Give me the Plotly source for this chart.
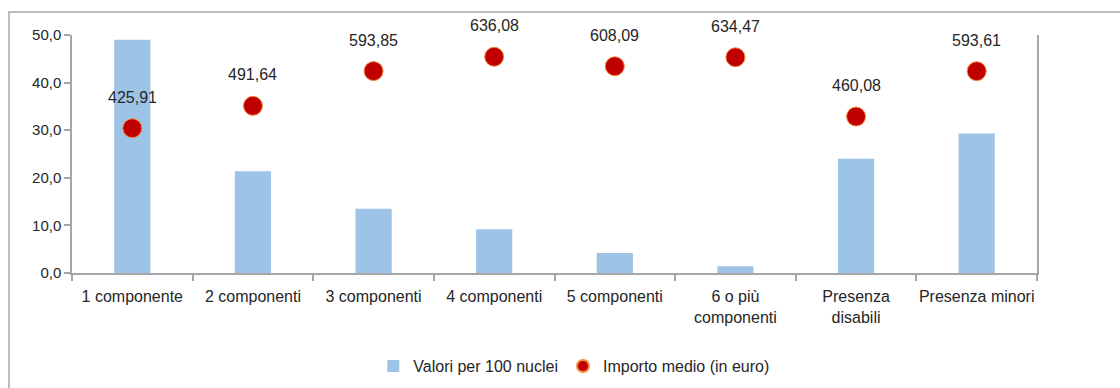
import plotly.graph_objects as go

# Household categories (x axis)
categorie = [
    "1 componente",
    "2 componenti",
    "3 componenti",
    "4 componenti",
    "5 componenti",
    "6 o più<br>componenti",
    "Presenza<br>disabili",
    "Presenza minori",
]

# Values per 100 households (left axis, bars)
valori_100_nuclei = [49.0, 21.4, 13.5, 9.2, 4.2, 1.4, 24.0, 29.3]

# Average amount in euro (hidden right axis, dots)
importo_medio = [425.91, 491.64, 593.85, 636.08, 608.09, 634.47, 460.08, 593.61]

FONT = "Liberation Sans, Arial, sans-serif"
GRIGIO = "#a6a6a6"
TESTO = "#262626"

fig = go.Figure()

fig.add_trace(go.Bar(
    x=categorie,
    y=valori_100_nuclei,
    name="Valori per 100 nuclei",
    marker=dict(color="#9dc3e6", line=dict(width=0)),
    width=0.3,
    yaxis="y",
))

fig.add_trace(go.Scatter(
    x=categorie,
    y=importo_medio,
    name="Importo medio (in euro)",
    mode="markers",
    marker=dict(color="#c00000", size=19, line=dict(color="#f08a3c", width=1)),
    yaxis="y2",
))

# Value labels above the dots
for c, v in zip(categorie, importo_medio):
    fig.add_annotation(
        x=c, y=v, xref="x", yref="y2",
        text=f"{v:.2f}".replace(".", ","),
        showarrow=False, yshift=31,
        font=dict(family=FONT, size=16, color=TESTO),
    )

# Outer chart frame
fig.add_shape(
    type="rect", xref="paper", yref="paper",
    x0=-63 / 965, x1=1.2, y0=-0.6, y1=1 + 23 / 238,
    line=dict(color=GRIGIO, width=1.5), fillcolor="rgba(0,0,0,0)",
    layer="below",
)

fig.update_layout(
    width=1120,
    height=388,
    margin=dict(l=72, r=83, t=35, b=115, autoexpand=False),
    paper_bgcolor="white",
    plot_bgcolor="white",
    separators=",.",
    font=dict(family=FONT, size=15, color=TESTO),
    bargap=0.7,
    showlegend=True,
    legend=dict(
        orientation="h",
        x=0.52, xanchor="center",
        y=-0.32, yanchor="top",
        font=dict(family=FONT, size=16, color=TESTO),
        itemsizing="constant",
        itemwidth=30,
        tracegroupgap=0,
    ),
    xaxis=dict(
        showline=True, linecolor=GRIGIO, linewidth=1.5,
        ticks="outside", tickcolor=GRIGIO, ticklen=6, tickwidth=1.5,
        tickson="boundaries",
        tickangle=0,
        ticklabelstandoff=8,
        automargin=False,
        showgrid=False,
        tickfont=dict(family=FONT, size=16, color=TESTO),
    ),
    yaxis=dict(
        range=[0, 50],
        dtick=10,
        tickformat=".1f",
        showline=True, linecolor=GRIGIO, linewidth=1.5,
        ticks="outside", tickcolor=GRIGIO, ticklen=6, tickwidth=1.5,
        automargin=False,
        showgrid=False, zeroline=False,
        tickfont=dict(family=FONT, size=15, color=TESTO),
    ),
    yaxis2=dict(
        range=[0, 700],
        overlaying="y",
        side="right",
        showline=True, linecolor=GRIGIO, linewidth=1.5,
        showticklabels=False, ticks="",
        automargin=False,
        showgrid=False, zeroline=False,
    ),
)

fig.write_html("out.html")
